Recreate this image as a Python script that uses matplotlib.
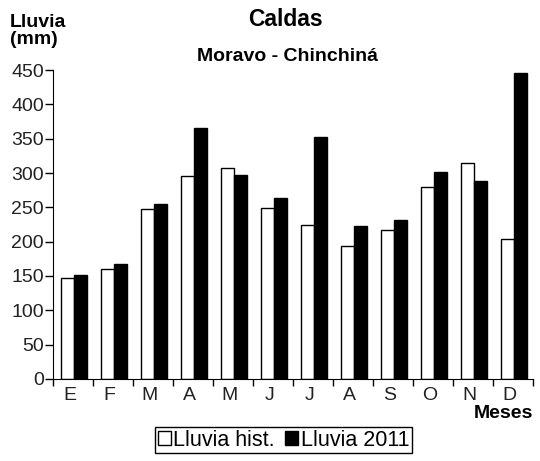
import numpy as np
import matplotlib.pyplot as plt
from matplotlib.patches import Patch

plt.rcParams['font.family'] = ['Liberation Sans', 'DejaVu Sans']

meses = ['E', 'F', 'M', 'A', 'M', 'J', 'J', 'A', 'S', 'O', 'N', 'D']
lluvia_hist = [147, 160, 248, 296, 308, 249, 225, 193, 217, 279, 314, 204]
lluvia_2011 = [151, 168, 255, 365, 297, 264, 352, 223, 232, 302, 289, 446]

fig = plt.figure(figsize=(5.4, 4.61), dpi=100)
ax = fig.add_axes([0.098, 0.178, 0.889, 0.670])

x = np.arange(len(meses)) + 0.5  # category centres
w = 0.32
ax.bar(x - w / 2 + 0.03, lluvia_hist, w, color='white', edgecolor='black', linewidth=1)
ax.bar(x + w / 2 + 0.03, lluvia_2011, w, color='black', edgecolor='black', linewidth=1)

ax.set_xlim(0, len(meses))
ax.set_ylim(0, 450)
ax.set_yticks(range(0, 451, 50))
ax.set_xticks(np.arange(len(meses) + 1))
ax.set_xticklabels([])
ax.set_xticks(x - 0.08, minor=True)
ax.set_xticklabels(meses, minor=True)
ax.tick_params(axis='x', which='minor', length=0, pad=6)
ax.tick_params(axis='x', which='major', length=5, width=1)
ax.tick_params(axis='y', length=6, width=1, pad=0.5)
ax.tick_params(which='both', labelsize=14, labelcolor='#222222')
for s in ['top', 'right']:
    ax.spines[s].set_visible(False)

fig.text(0.528, 0.957, 'Caldas', ha='center', va='center', fontsize=16.5, fontweight='bold')
fig.text(0.533, 0.877, 'Moravo - Chinchiná', ha='center', va='center', fontsize=14, fontweight='bold')
fig.text(0.018, 0.933, 'Lluvia\n(mm)', ha='left', va='center', fontsize=14, fontweight='bold',
         linespacing=1.05)
fig.text(0.988, 0.103, 'Meses', ha='right', va='center', fontsize=14, fontweight='bold')

handles = [Patch(facecolor='white', edgecolor='black'), Patch(facecolor='black', edgecolor='black')]
leg = fig.legend(handles, ['Lluvia hist.', 'Lluvia 2011'], loc='center', bbox_to_anchor=(0.525, 0.045),
                 ncol=2, fontsize=15.5, fancybox=False, edgecolor='black', framealpha=1,
                 handlelength=0.6, handleheight=0.6, handletextpad=0.1, columnspacing=0.5,
                 borderpad=0.12, borderaxespad=0)
leg.get_frame().set_linewidth(1)

fig.savefig('out.png', dpi=100)
